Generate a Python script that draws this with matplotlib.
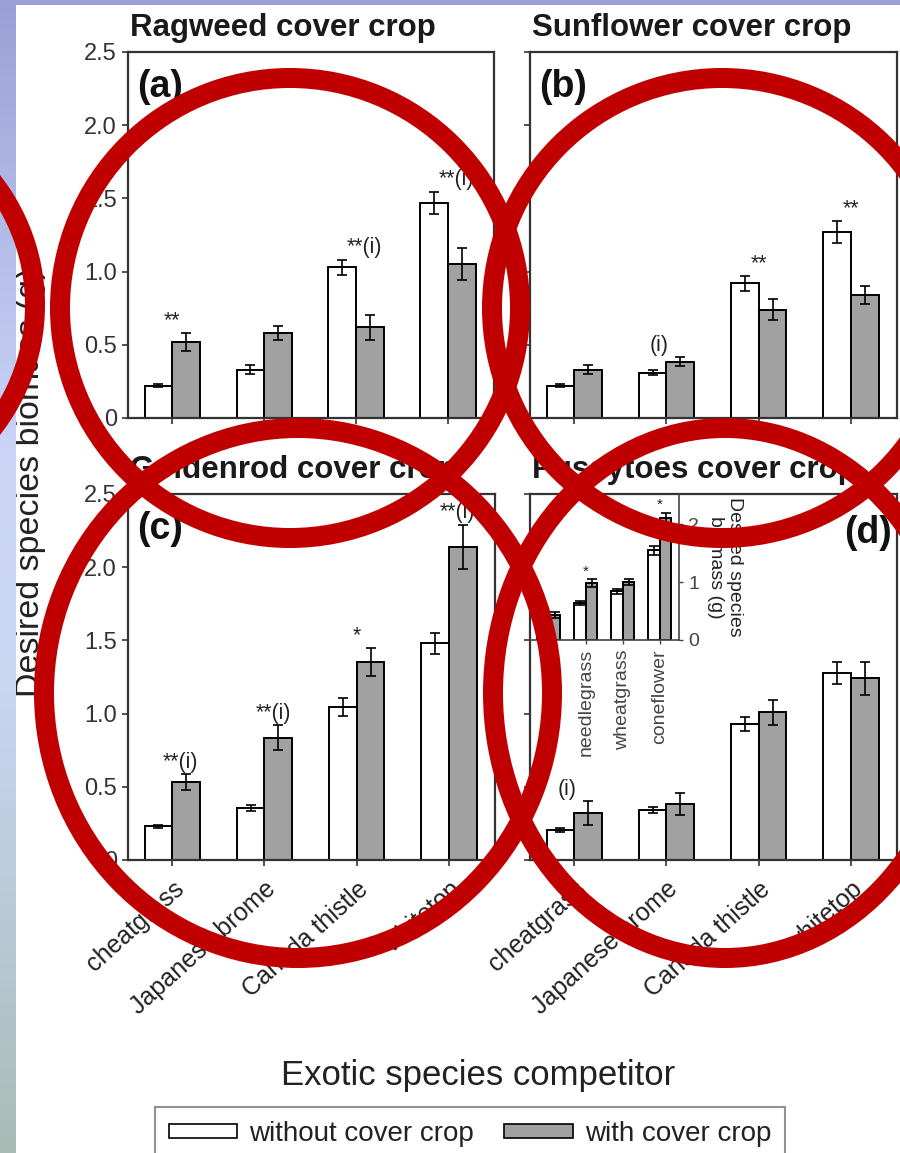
import numpy as np
import matplotlib
matplotlib.use("Agg")
import matplotlib.pyplot as plt
from matplotlib.patches import Ellipse, Rectangle

plt.rcParams['font.family'] = ['Liberation Sans', 'DejaVu Sans']

# exotic competitors (x axis of the four panels)
exotic = ["cheatgrass", "Japanese brome", "Canada thistle", "whitetop"]

# desired species biomass (g), without / with cover crop, +- SE
ragweed_without = [0.22, 0.33, 1.03, 1.47]
ragweed_without_se = [0.01, 0.03, 0.05, 0.075]
ragweed_with = [0.52, 0.58, 0.62, 1.05]
ragweed_with_se = [0.06, 0.05, 0.085, 0.11]
ragweed_marks = ["**", "", "**(i)", "**(i)"]

sunflower_without = [0.22, 0.31, 0.92, 1.27]
sunflower_without_se = [0.01, 0.015, 0.05, 0.075]
sunflower_with = [0.33, 0.385, 0.74, 0.84]
sunflower_with_se = [0.03, 0.03, 0.07, 0.06]
sunflower_marks = ["", "(i)", "**", "**"]

goldenrod_without = [0.23, 0.355, 1.045, 1.48]
goldenrod_without_se = [0.01, 0.02, 0.06, 0.07]
goldenrod_with = [0.53, 0.835, 1.355, 2.14]
goldenrod_with_se = [0.055, 0.085, 0.095, 0.15]
goldenrod_marks = ["**(i)", "**(i)", "*", "**(i)"]

pussytoes_without = [0.205, 0.34, 0.93, 1.28]
pussytoes_without_se = [0.015, 0.02, 0.05, 0.075]
pussytoes_with = [0.32, 0.38, 1.01, 1.24]
pussytoes_with_se = [0.08, 0.075, 0.085, 0.11]
pussytoes_marks = ["(i)", "", "", ""]

# inset of panel (d): desired species
desired = ["grama", "needlegrass", "wheatgrass", "coneflower"]
desired_without = [0.30, 0.64, 0.84, 1.55]
desired_without_se = [0.03, 0.04, 0.04, 0.08]
desired_with = [0.43, 0.98, 1.00, 2.10]
desired_with_se = [0.05, 0.07, 0.05, 0.10]
desired_marks = ["", "*", "", "*"]

W, H = 900, 1153
GRAY = '#a1a1a1'
fig = plt.figure(figsize=(W / 100, H / 100), dpi=100)


def box(l, t, r, b):
    return [l / W, 1 - b / H, (r - l) / W, (b - t) / H]


def bars(ax, without, without_se, with_, with_se, marks, bw, msize):
    x = np.arange(len(without))
    ek = dict(ecolor='black', elinewidth=1.2, capsize=3.5, capthick=1.2)
    ax.bar(x - bw / 2, without, bw, yerr=without_se, color='white',
           edgecolor='black', linewidth=1.4, error_kw=ek)
    ax.bar(x + bw / 2, with_, bw, yerr=with_se, color=GRAY,
           edgecolor='black', linewidth=1.4, error_kw=ek)
    for i, m in enumerate(marks):
        if not m:
            continue
        top = max(without[i] + without_se[i], with_[i] + with_se[i]) + 0.01
        if m == "(i)":
            ax.text(i - 0.08, top, m, ha='center', va='bottom', fontsize=msize, color='#222')
        elif "(i)" in m:
            ax.text(i - 0.1, top, m, ha='left', va='bottom', fontsize=msize, color='#222')
        else:
            ax.text(i, top, m, ha='center', va='bottom', fontsize=msize, color='#222')
    return x


panels = [
    (box(128, 52, 494, 418), "Ragweed cover crop", "(a)",
     ragweed_without, ragweed_without_se, ragweed_with, ragweed_with_se, ragweed_marks),
    (box(530, 52, 897, 418), "Sunflower cover crop", "(b)",
     sunflower_without, sunflower_without_se, sunflower_with, sunflower_with_se, sunflower_marks),
    (box(128, 494, 495, 860), "Goldenrod cover crop", "(c)",
     goldenrod_without, goldenrod_without_se, goldenrod_with, goldenrod_with_se, goldenrod_marks),
    (box(530, 494, 897, 860), "Pussytoes cover crop", "(d)",
     pussytoes_without, pussytoes_without_se, pussytoes_with, pussytoes_with_se, pussytoes_marks),
]

for k, (pos, title, tag, wo, wo_se, wi, wi_se, marks) in enumerate(panels):
    ax = fig.add_axes(pos)
    x = bars(ax, wo, wo_se, wi, wi_se, marks, 0.3, 15.5)
    ax.set_xlim(-0.48, 3.5)
    ax.set_ylim(0, 2.5)
    ax.set_yticks([0, 0.5, 1.0, 1.5, 2.0, 2.5])
    if k % 2 == 0:
        ax.set_yticklabels(['0', '0.5', '1.0', '1.5', '2.0', '2.5'])
    else:
        ax.set_yticklabels([])
    ax.set_xticks(x)
    ax.tick_params(direction='out', length=4, width=1.2, colors='#333',
                   labelsize=17, pad=4)
    if k >= 2:
        ax.set_xticklabels(exotic, rotation=42, ha='right', va='top',
                           rotation_mode='anchor', fontsize=18, color='#222')
        ax.tick_params(axis='x', pad=8)
    else:
        ax.set_xticklabels([])
    for s in ax.spines.values():
        s.set_color('#333')
        s.set_linewidth(1.6)
    ax.text(0.005, 1.045, title, transform=ax.transAxes, fontsize=22.5,
            fontweight='bold', ha='left', va='baseline', color='#1a1a1a')
    if tag == "(d)":
        ax.text(0.985, 0.893, tag, transform=ax.transAxes, fontsize=27,
                fontweight='bold', ha='right', va='center', color='#111')
    else:
        ax.text(0.025, 0.905, tag, transform=ax.transAxes, fontsize=27,
                fontweight='bold', ha='left', va='center', color='#111')

# inset in panel (d)
ins = fig.add_axes(box(530, 494, 679, 640))
ins.patch.set_alpha(0)
xi = bars(ins, desired_without, desired_without_se, desired_with, desired_with_se,
          desired_marks, 0.31, 11)
ins.set_xlim(-0.51, 3.52)
ins.set_ylim(0, 2.52)
ins.spines['top'].set_visible(False)
ins.spines['left'].set_visible(False)
for s in ('right', 'bottom'):
    ins.spines[s].set_color('#444')
    ins.spines[s].set_linewidth(1.2)
ins.yaxis.tick_right()
ins.set_yticks([0, 1, 2])
ins.set_yticklabels(['0', '1', '2'])
ins.set_xticks(xi)
ins.set_xticklabels(desired, rotation=90, ha='center', va='top', fontsize=13.5, color='#222')
ins.tick_params(direction='out', length=3, width=1, colors='#444', labelsize=14)
ins.yaxis.set_label_position('right')
ins.set_ylabel("Desired species\nbiomass (g)", rotation=270, fontsize=14,
               color='#222', labelpad=32, linespacing=1.15)

fig.text(31 / W, 1 - 482 / H, "Desired species biomass (g)", rotation=90,
         ha='center', va='center', fontsize=24.5, color='#222')
fig.text(478 / W, 1 - 1075 / H, "Exotic species competitor",
         ha='center', va='center', fontsize=25, color='#222')

h1 = Rectangle((0, 0), 1, 1, facecolor='white', edgecolor='black', linewidth=1.2)
h2 = Rectangle((0, 0), 1, 1, facecolor=GRAY, edgecolor='black', linewidth=1.2)
leg = fig.legend([h1, h2], ["without cover crop", "with cover crop"], ncol=2,
                 loc='upper center', bbox_to_anchor=(470 / W, 1 - 1107 / H),
                 fontsize=20, frameon=True, fancybox=False, handlelength=2.45,
                 handleheight=0.45, handletextpad=0.45, columnspacing=1.1,
                 borderpad=0.5, borderaxespad=0)
leg.get_frame().set_edgecolor('#777')
leg.get_frame().set_linewidth(1.5)
for t in leg.get_texts():
    t.set_color('#222')

# overlay: page border strips and the red circles
ov = fig.add_axes([0, 0, 1, 1], zorder=10)
ov.patch.set_alpha(0)
stops = np.array([[154, 160, 214], [178, 188, 232], [204, 214, 247],
                  [200, 214, 242], [184, 202, 214], [168, 188, 182]]) / 255
ys = np.linspace(0, 1, len(stops))
yy = np.linspace(0, 1, 300)
grad = np.stack([np.interp(yy, ys, stops[:, c]) for c in range(3)], axis=1)
ov.imshow(grad[:, None, :], extent=(0, 16, H, 0), aspect='auto', zorder=1)
ov.add_patch(Rectangle((0, 0), W, 5, facecolor=(154 / 255, 160 / 255, 214 / 255),
                       edgecolor='none', zorder=1))
circles = [(290, 308, 460, 460), (722, 308, 460, 460), (298, 693, 508, 530),
           (725, 693, 464, 530), (-165, 305, 400, 400)]
for cx, cy, w, h in circles:
    ov.add_patch(Ellipse((cx, cy), w, h, fill=False, edgecolor='#c00000',
                         linewidth=14.4, zorder=5))
ov.set_xlim(0, W)
ov.set_ylim(H, 0)
ov.axis('off')

fig.savefig("out.png", dpi=100)
